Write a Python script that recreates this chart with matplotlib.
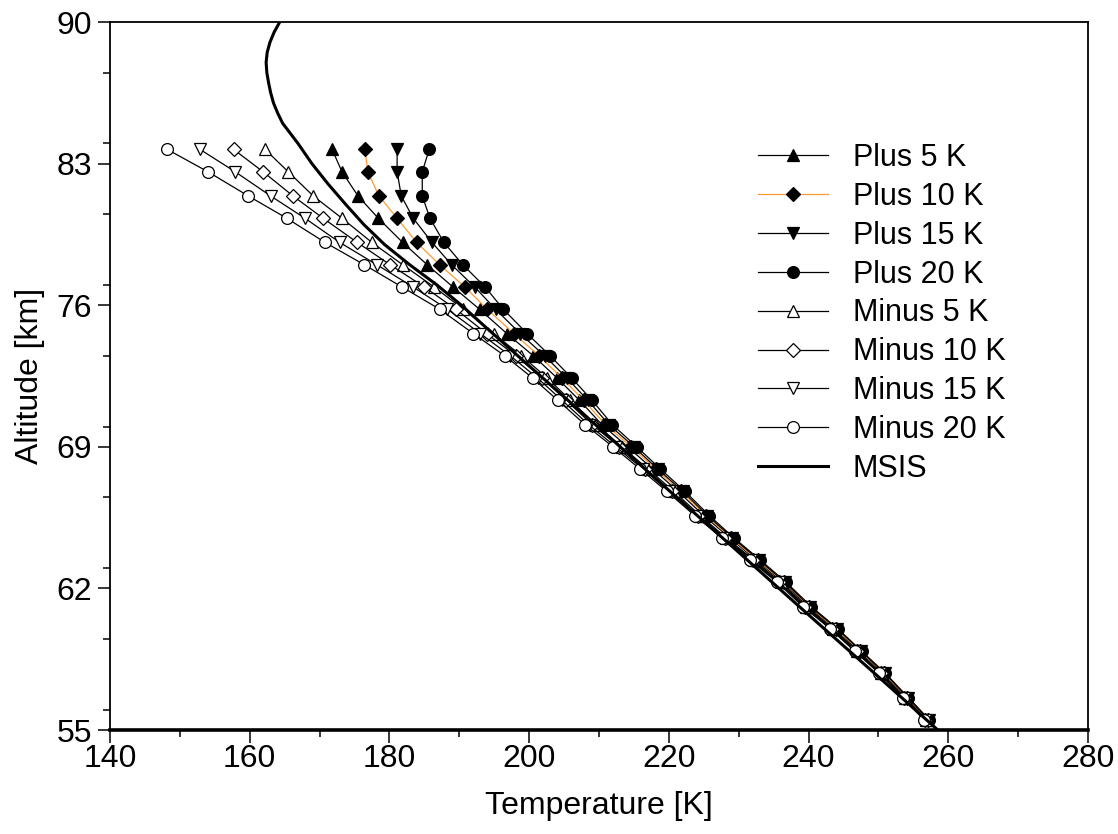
import matplotlib
matplotlib.use("Agg")
import matplotlib.pyplot as plt
from matplotlib.ticker import MultipleLocator

plt.rcParams['font.family'] = ['Liberation Sans', 'DejaVu Sans']

# altitude of the retrieval points [km]
alt = [83.7, 82.6, 81.4, 80.3, 79.1, 78.0, 76.9, 75.8, 74.6, 73.5, 72.4, 71.3, 70.1,
       69.0, 67.9, 66.8, 65.6, 64.5, 63.4, 62.3, 61.1, 60.0, 58.9, 57.8, 56.6, 55.5]

plus5 = [171.8, 173.2, 175.5, 178.4, 181.9, 185.4, 189.1, 192.9, 196.8, 200.6, 204.0, 207.2, 210.4,
         214.1, 217.7, 221.3, 225.0, 228.7, 232.5, 236.3, 239.9, 243.8, 247.2, 250.7, 254.0, 257.0]
plus10 = [176.5, 176.9, 178.5, 181.1, 183.9, 187.2, 190.8, 194.0, 197.8, 201.4, 204.7, 207.8, 210.9,
          214.6, 218.1, 221.7, 225.3, 228.9, 232.7, 236.5, 240.1, 243.9, 247.4, 250.8, 254.1, 257.1]
plus15 = [181.1, 181.1, 181.7, 183.4, 186.1, 188.9, 192.2, 195.2, 198.7, 202.2, 205.4, 208.4, 211.4,
          215.0, 218.4, 222.0, 225.5, 229.1, 232.9, 236.6, 240.2, 244.1, 247.5, 250.9, 254.2, 257.2]
plus20 = [185.7, 184.7, 184.7, 185.8, 187.8, 190.5, 193.7, 196.3, 199.7, 203.0, 206.1, 209.0, 211.9,
          215.4, 218.8, 222.3, 225.8, 229.3, 233.1, 236.8, 240.4, 244.2, 247.6, 251.0, 254.3, 257.3]
minus5 = [162.2, 165.5, 169.1, 173.2, 177.5, 181.9, 186.4, 190.6, 194.9, 198.9, 202.6, 205.9, 209.5,
          213.3, 217.0, 220.7, 224.5, 228.2, 232.2, 236.0, 239.7, 243.5, 247.0, 250.4, 253.8, 256.8]
minus10 = [157.7, 161.9, 166.2, 170.5, 175.4, 180.1, 185.0, 189.5, 193.9, 198.1, 201.9, 205.3, 209.0,
           212.9, 216.6, 220.4, 224.2, 228.0, 232.0, 235.8, 239.5, 243.4, 246.9, 250.3, 253.7, 256.7]
minus15 = [152.9, 157.9, 163.0, 167.9, 172.9, 178.2, 183.4, 188.3, 193.0, 197.3, 201.2, 204.7, 208.5,
           212.4, 216.3, 220.0, 224.0, 227.8, 231.8, 235.7, 239.4, 243.2, 246.7, 250.2, 253.6, 256.6]
minus20 = [148.2, 154.0, 159.8, 165.3, 170.8, 176.4, 181.8, 187.2, 192.0, 196.5, 200.5, 204.1, 208.0,
           212.0, 215.9, 219.7, 223.7, 227.6, 231.6, 235.5, 239.2, 243.1, 246.6, 250.1, 253.5, 256.5]

# MSIS reference profile
msis_alt = [55, 58, 61, 64, 67, 70, 73, 75, 76, 77, 78, 79, 80, 81, 82, 83, 84, 85,
            85.5, 86, 86.5, 87, 87.5, 88, 88.5, 89, 89.5, 90]
msis_t = [258.5, 248.8, 239.0, 229.3, 219.5, 209.8, 200.0, 193.5, 190.3, 186.8, 182.9, 179.3,
          176.3, 173.7, 171.2, 168.9, 166.9, 164.7, 164.0, 163.4, 163.0, 162.7, 162.45, 162.35,
          162.5, 162.9, 163.5, 164.3]

series = [
    ('Plus 5 K', plus5, '^', 'black', 'black', 9),
    ('Plus 10 K', plus10, 'D', 'black', '#ff9933', 7),
    ('Plus 15 K', plus15, 'v', 'black', 'black', 9),
    ('Plus 20 K', plus20, 'o', 'black', 'black', 8.5),
    ('Minus 5 K', minus5, '^', 'white', 'black', 9),
    ('Minus 10 K', minus10, 'D', 'white', 'black', 7),
    ('Minus 15 K', minus15, 'v', 'white', 'black', 9),
    ('Minus 20 K', minus20, 'o', 'white', 'black', 8.5),
]

fig = plt.figure(figsize=(11.18, 8.34), dpi=100)
ax = fig.add_axes([110 / 1118, 1 - 730 / 834, 978 / 1118, 708 / 834])

for label, temps, mk, face, lcol, ms in series:
    ax.plot(temps, alt, color=lcol, lw=0.9, marker=mk, markersize=ms,
            markerfacecolor=face, markeredgecolor='black', markeredgewidth=0.9,
            label=label, clip_on=False)

ax.plot(msis_t, msis_alt, color='black', lw=2.2, label='MSIS')

ax.set_xlim(140, 280)
ax.set_ylim(55, 90)
ax.set_xticks(range(140, 281, 20))
ax.set_yticks([55, 62, 69, 76, 83, 90])
ax.xaxis.set_minor_locator(MultipleLocator(10))
ax.yaxis.set_minor_locator(MultipleLocator(3.5))
ax.tick_params(which='major', direction='out', length=9, width=1.1, labelsize=23, pad=4)
ax.tick_params(which='minor', direction='out', length=5, width=1.1)
ax.tick_params(axis='x', pad=1)

for sp in ax.spines.values():
    sp.set_linewidth(1.3)
ax.spines['bottom'].set_linewidth(2.6)

ax.set_xlabel('Temperature [K]', fontsize=23, labelpad=12)
ax.set_ylabel('Altitude [km]', fontsize=23, labelpad=8)

ax.legend(loc='upper left', bbox_to_anchor=(758 / 1118, 1 - 143 / 834),
          bbox_transform=fig.transFigure, frameon=False, fontsize=22,
          handlelength=2.3, handletextpad=0.8, labelspacing=0.29,
          borderpad=0, borderaxespad=0, numpoints=1)

fig.savefig('out.png', dpi=100)
